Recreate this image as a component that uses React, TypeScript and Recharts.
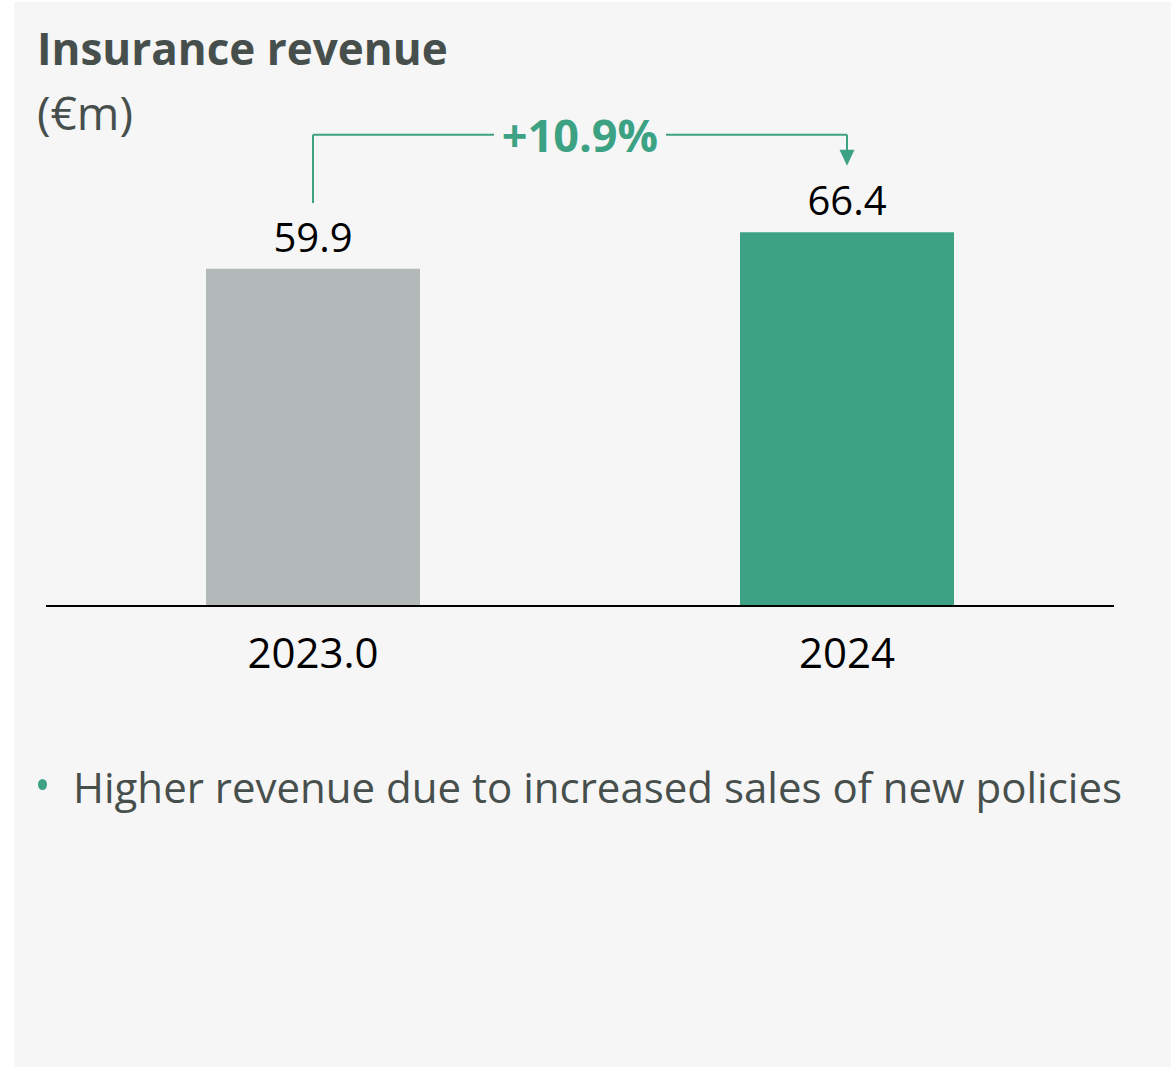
import React from "react";
import { BarChart, Bar, XAxis, YAxis, Cell, LabelList, ReferenceLine, ReferenceDot } from "recharts";

const years = ["2023.0", "2024"];
const revenue = [59.9, 66.4];
const barColors = ["#b3b9b8", "#3da283"];
const bullets = ["Higher revenue due to increased sales of new policies"];

const GREEN = "#3da283";
const TEXT = "#474f4d";
const FONT = "'Open Sans', sans-serif";

const data = years.map((year, i) => ({ idx: i, year, value: revenue[i] }));
const growth = ((revenue[1] / revenue[0] - 1) * 100).toFixed(1);

// bracket annotation, in data units of the value axis
const BRACKET_Y = 83.7;
const BRACKET_START = 71.6;
const ARROW_TOP = 81.0;
const ARROW_TIP = 78.2;

function YearTick(props: any) {
  const { x, y, payload } = props;
  return (
    <text x={x} y={y + 54} textAnchor="middle" fill="#000" fontSize={42} fontFamily={FONT}>
      {years[payload.value]}
    </text>
  );
}

function ValueLabel(props: any) {
  const { x, y, width, value } = props;
  return (
    <text x={x + width / 2} y={y - 17} textAnchor="middle" fill="#000" fontSize={40} fontFamily={FONT}>
      {value}
    </text>
  );
}

function Arrowhead(props: any) {
  const { cx, cy } = props;
  return <path d={`M${cx - 7.5},${cy - 16} L${cx + 7.5},${cy - 16} L${cx},${cy} Z`} fill={GREEN} />;
}

function GrowthBadge(props: any) {
  const { cx, cy } = props;
  return (
    <g>
      <rect x={cx - 86} y={cy - 20} width={172} height={40} fill="#f6f6f6" />
      <text x={cx} y={cy + 17} textAnchor="middle" fill={GREEN} fontSize={45} fontWeight={700} fontFamily={FONT}>
        +{growth}%
      </text>
    </g>
  );
}

export default function App() {
  return (
    <div style={{ position: "absolute", left: 0, top: 0, width: 1171, height: 1067, background: "#fff", fontFamily: FONT }}>
      <div style={{ position: "absolute", left: 14, top: 2, width: 1157, height: 1065, background: "#f6f6f6" }} />
      <div style={{ position: "absolute", left: 37, top: 26, fontSize: 44, lineHeight: "44px", fontWeight: 700, color: TEXT, whiteSpace: "nowrap" }}>
        Insurance revenue
      </div>
      <div style={{ position: "absolute", left: 37, top: 89, fontSize: 46, lineHeight: "46px", color: TEXT, whiteSpace: "nowrap" }}>
        (€m)
      </div>
      <div style={{ position: "absolute", left: 0, top: 0 }}>
        <BarChart width={1171} height={700} data={data} margin={{ top: 43, right: 57, left: 46, bottom: 34 }}>
          <XAxis
            type="number"
            dataKey="idx"
            domain={[-0.5, 1.5]}
            ticks={[0, 1]}
            tickLine={false}
            axisLine={{ stroke: "#000", strokeWidth: 2 }}
            tick={<YearTick />}
            height={60}
          />
          <YAxis hide domain={[0, 100]} />
          <Bar dataKey="value" barSize={214} isAnimationActive={false}>
            {data.map((d, i) => (
              <Cell key={d.year} fill={barColors[i]} />
            ))}
            <LabelList dataKey="value" content={<ValueLabel />} />
          </Bar>
          <ReferenceLine segment={[{ x: 0, y: BRACKET_START }, { x: 0, y: BRACKET_Y }]} stroke={GREEN} strokeWidth={2} />
          <ReferenceLine segment={[{ x: 0, y: BRACKET_Y }, { x: 1, y: BRACKET_Y }]} stroke={GREEN} strokeWidth={2} />
          <ReferenceLine segment={[{ x: 1, y: BRACKET_Y }, { x: 1, y: ARROW_TOP }]} stroke={GREEN} strokeWidth={2} />
          <ReferenceDot x={1} y={ARROW_TIP} shape={<Arrowhead />} />
          <ReferenceDot x={0.5} y={BRACKET_Y} shape={<GrowthBadge />} />
        </BarChart>
      </div>
      {bullets.map((b, i) => (
        <div key={i} style={{ position: "absolute", left: 38, top: 766 + i * 56, fontSize: 42, lineHeight: "42px", color: TEXT, whiteSpace: "nowrap" }}>
          <span style={{ display: "inline-block", width: 9, height: 11, borderRadius: "50%", background: GREEN, marginRight: 26, verticalAlign: "0.3em" }} />
          {b}
        </div>
      ))}
    </div>
  );
}
